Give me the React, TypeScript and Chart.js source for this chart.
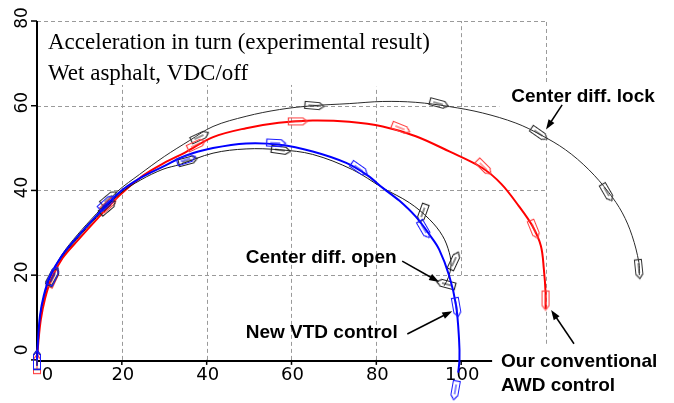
import React, { useEffect, useRef } from 'react';
import { Chart, registerables } from 'chart.js';
Chart.register(...registerables);

// ---- data (x = lateral position, y = longitudinal position, metres) ----
const lockX = [0, 0.3, 0.8, 1.8, 3.3, 6, 9.5, 14, 19, 24.2, 30, 36, 41.5, 49.3, 57.2, 65, 73.6, 81.5, 89.3, 97.2, 105, 112.9, 118.6, 124.6, 130.1, 134.8, 138, 140.3, 141.9, 142];
const lockY = [0, 4, 10, 15, 20, 25, 29.5, 34.5, 39.8, 43.8, 48, 51.8, 55.1, 57.5, 59.1, 60, 60.5, 61, 60.8, 59.8, 58.3, 55.9, 53.2, 49.6, 44.9, 39.5, 34.7, 29.3, 23, 20];

const convX = [0, 0.3, 0.9, 1.9, 3.4, 6, 9.6, 14.3, 19.6, 25, 30, 35, 41.5, 49.3, 57, 65, 73.6, 81.5, 89.3, 97.2, 105, 109.5, 113.6, 116.8, 118.8, 119.5, 119.9, 119.9];
const convY = [0, 4, 9.5, 14.5, 19.2, 24, 28.2, 33.4, 39, 43.5, 46.5, 49, 52.6, 54.7, 56, 56.5, 56.2, 55.1, 52.8, 49.2, 45.3, 41.5, 36.3, 31.6, 26.9, 21.4, 15.9, 12];

const openX = [0, 0.2, 0.7, 1.6, 3.1, 5.8, 9.3, 14, 19.5, 24.5, 29.7, 33.6, 41.5, 49.3, 57.2, 65, 74.4, 81.5, 87.8, 92.5, 95.6, 97.2, 97.6, 97, 96];
const openY = [0, 4, 10.3, 15, 19.6, 24.2, 28.4, 33.6, 39.2, 42.5, 45, 46.1, 48.8, 49.8, 49.6, 48.5, 44.9, 40.6, 37.1, 33.2, 29.3, 25.3, 22.2, 19.5, 17.5];

const vtdX = [0, 0.2, 0.7, 1.6, 3.1, 5.8, 9.3, 14, 19.5, 24.5, 29.7, 35, 41.5, 49.3, 57.2, 65, 72.9, 78, 81.5, 85.4, 89.3, 92.5, 94.8, 97.2, 98.8, 99.5, 99.6, 99.3];
const vtdY = [0, 4, 10.4, 15.2, 19.8, 24.5, 28.8, 34, 39.6, 43, 45.6, 48.2, 50, 51.1, 50.8, 49.2, 46.5, 43.5, 40.6, 37.6, 33.8, 29.6, 26.1, 19.8, 12.8, 4.9, 0, -3];

// vehicle positions (markers) and heading, degrees
const lockMarkX = [0, 3.8, 17, 38.4, 65.4, 94.8, 118.4, 134.4, 141.9];
const lockMarkY = [0, 20, 38.2, 52.7, 60, 60.5, 53.4, 39.5, 21.4];
const lockMarkH = [90, 62, 40, 25, -5, -15, -35, -60, -84];

const convMarkX = [0, 3.8, 17, 37.6, 61.5, 85.8, 105.4, 117.2, 119.9];
const convMarkY = [-1, 19.3, 36.8, 50.8, 56.3, 54.7, 45.5, 30.8, 14];
const convMarkH = [90, 65, 42, 25, 0, -22, -45, -68, -90];

const openMarkX = [0, 3.8, 16.7, 35.6, 57.5, 90.9, 98.4, 96.4];
const openMarkY = [0, 19.6, 36, 47, 49.5, 34.6, 23.4, 17.9];
const openMarkH = [90, 62, 40, 15, -8, -110, 65, 165];

const vtdMarkX = [0, 3.8, 16.4, 35.2, 56.4, 76, 91.3, 98.9, 98.6];
const vtdMarkY = [0, 19.8, 37.1, 47.3, 51.2, 45.1, 30.8, 12.4, -7.2];
const vtdMarkH = [90, 65, 42, 18, -3, -35, -60, -80, -100];

const xTicks = [0, 20, 40, 60, 80, 100];
const yTicks = [0, 20, 40, 60, 80];
const X_MIN = 0;
const X_MAX = 149;
const Y_MIN = -9;
const Y_MAX = 80;
const X_AXIS_END = 107.3;

const titleLines = ['Acceleration in turn (experimental result)', 'Wet asphalt, VDC/off'];

// annotation labels: text, anchor (data units), arrow start, arrow tip
const labels = [
  { lines: ['Center diff. lock'], x: 111.8, y: 60.9, from: [123.8, 60.2], to: [120, 54.4] },
  { lines: ['Center diff. open'], x: 49.2, y: 22.8, from: [86.1, 23.3], to: [94.8, 18.4] },
  { lines: ['New VTD control'], x: 49.2, y: 5.2, from: [87.3, 6.1], to: [97.9, 11.5] },
  { lines: ['Our conventional', 'AWD control'], x: 109.4, y: -1.6, from: [126.6, 3.8], to: [121.2, 11.8] },
];

// dashed grid segments (value, from, to)
const gridV = [
  [20, 0, 64.9], [40, 0, 64.9], [60, 0, 64.9], [80, 0, 64.5],
  [100, 20, 80], [120, 3.8, 52], [120, 65.6, 80],
];
const gridH = [
  [80, 0, 120], [60, 0, 109], [40, 0, 120], [20, 0, 120],
];

const pts = (xs: number[], ys: number[]) => xs.map((x, i) => ({ x, y: ys[i] }));

function makeCar(color: string): HTMLCanvasElement {
  const c = document.createElement('canvas');
  c.width = 22;
  c.height = 10;
  const g = c.getContext('2d')!;
  g.strokeStyle = color;
  g.lineWidth = 1.2;
  g.beginPath();
  g.moveTo(1.5, 1.5);
  g.lineTo(16, 1.5);
  g.lineTo(20.5, 5);
  g.lineTo(16, 8.5);
  g.lineTo(1.5, 8.5);
  g.closePath();
  g.stroke();
  g.lineWidth = 1;
  g.beginPath();
  g.moveTo(5, 5);
  g.lineTo(15, 5);
  g.stroke();
  return c;
}

const overlay = {
  id: 'overlay',
  beforeDatasetsDraw(chart: any) {
    const { ctx } = chart;
    const xs = chart.scales.x;
    const ys = chart.scales.y;
    const px = (v: number) => xs.getPixelForValue(v);
    const py = (v: number) => ys.getPixelForValue(v);
    ctx.save();
    // grid
    ctx.strokeStyle = '#9a9a9a';
    ctx.lineWidth = 1;
    ctx.setLineDash([4, 3]);
    gridV.forEach(([v, a, b]) => {
      const x = Math.round(px(v)) + 0.5;
      ctx.beginPath();
      ctx.moveTo(x, py(a));
      ctx.lineTo(x, py(b));
      ctx.stroke();
    });
    gridH.forEach(([v, a, b]) => {
      const y = Math.round(py(v)) + 0.5;
      ctx.beginPath();
      ctx.moveTo(px(a), y);
      ctx.lineTo(px(b), y);
      ctx.stroke();
    });
    ctx.setLineDash([]);
    // axes
    ctx.strokeStyle = '#000';
    ctx.lineWidth = 2;
    ctx.beginPath();
    ctx.moveTo(px(0), py(Y_MAX));
    ctx.lineTo(px(0), py(0) + 1);
    ctx.lineTo(px(X_AXIS_END), py(0) + 1);
    ctx.stroke();
    ctx.lineWidth = 1.5;
    yTicks.forEach((t) => {
      const y = py(t);
      ctx.beginPath();
      ctx.moveTo(px(0) - 6, y);
      ctx.lineTo(px(0), y);
      ctx.stroke();
    });
    xTicks.forEach((t) => {
      const x = px(t);
      ctx.beginPath();
      ctx.moveTo(x, py(0));
      ctx.lineTo(x, py(0) + 5);
      ctx.stroke();
    });
    // tick labels
    ctx.fillStyle = '#000';
    ctx.font = '18px "DejaVu Sans", sans-serif';
    ctx.textAlign = 'center';
    ctx.textBaseline = 'alphabetic';
    xTicks.forEach((t) => {
      const off = t === 0 ? 10.5 : 1;
      ctx.fillText(String(t), px(t) + off, py(0) + 20);
    });
    ctx.font = '17px "DejaVu Sans", sans-serif';
    yTicks.forEach((t) => {
      const off = t === 0 ? -10 : -3;
      ctx.save();
      ctx.translate(px(0) - 10, py(t) + off);
      ctx.rotate(-Math.PI / 2);
      ctx.fillText(String(t), 0, 0);
      ctx.restore();
    });
    ctx.restore();
  },
  afterDatasetsDraw(chart: any) {
    const { ctx } = chart;
    const xs = chart.scales.x;
    const ys = chart.scales.y;
    const px = (v: number) => xs.getPixelForValue(v);
    const py = (v: number) => ys.getPixelForValue(v);
    ctx.save();
    ctx.fillStyle = '#000';
    ctx.textAlign = 'left';
    ctx.textBaseline = 'alphabetic';
    ctx.font = '23px "Liberation Serif", "Times New Roman", serif';
    ctx.fillText(titleLines[0], px(0) + 11, 49);
    ctx.fillText(titleLines[1], px(0) + 11, 80);
    ctx.font = 'bold 19px "Liberation Sans", Arial, sans-serif';
    labels.forEach((l) => {
      l.lines.forEach((s, i) => ctx.fillText(s, px(l.x), py(l.y) + i * 24));
      const x1 = px(l.from[0]);
      const y1 = py(l.from[1]);
      const x2 = px(l.to[0]);
      const y2 = py(l.to[1]);
      const ang = Math.atan2(y2 - y1, x2 - x1);
      const hl = 10;
      const hw = 3.5;
      ctx.strokeStyle = '#000';
      ctx.lineWidth = 1.5;
      ctx.beginPath();
      ctx.moveTo(x1, y1);
      ctx.lineTo(x2 - Math.cos(ang) * hl * 0.8, y2 - Math.sin(ang) * hl * 0.8);
      ctx.stroke();
      ctx.beginPath();
      ctx.moveTo(x2, y2);
      ctx.lineTo(x2 - Math.cos(ang) * hl - Math.sin(ang) * hw, y2 - Math.sin(ang) * hl + Math.cos(ang) * hw);
      ctx.lineTo(x2 - Math.cos(ang) * hl + Math.sin(ang) * hw, y2 - Math.sin(ang) * hl - Math.cos(ang) * hw);
      ctx.closePath();
      ctx.fill();
    });
    ctx.restore();
  },
};

export default function App() {
  const ref = useRef<HTMLCanvasElement | null>(null);
  useEffect(() => {
    if (!ref.current) return;
    const carLock = makeCar('#333333');
    const carOpen = makeCar('#222222');
    const carConv = makeCar('#ff4040');
    const carVtd = makeCar('#1a1aff');
    const lineDs = (data: any, color: string, width: number, order: number) => ({
      data,
      showLine: true,
      borderColor: color,
      borderWidth: width,
      pointRadius: 0,
      tension: 0.35,
      clip: false,
      order,
    });
    const markDs = (data: any, img: HTMLCanvasElement, heads: number[], order: number) => ({
      data,
      showLine: false,
      pointStyle: img,
      pointRotation: heads.map((h) => -h),
      pointRadius: 3,
      clip: false,
      order,
    });
    const chart = new Chart(ref.current, {
      type: 'scatter',
      data: {
        datasets: [
          lineDs(pts(lockX, lockY), '#2b2b2b', 1, 8),
          markDs(pts(lockMarkX, lockMarkY), carLock, lockMarkH, 7),
          lineDs(pts(convX, convY), '#ff0000', 2, 6),
          markDs(pts(convMarkX, convMarkY), carConv, convMarkH, 5),
          lineDs(pts(openX, openY), '#1a1a1a', 1, 4),
          markDs(pts(openMarkX, openMarkY), carOpen, openMarkH, 3),
          lineDs(pts(vtdX, vtdY), '#0000ff', 2, 2),
          markDs(pts(vtdMarkX, vtdMarkY), carVtd, vtdMarkH, 1),
        ] as any,
      },
      options: {
        responsive: false,
        animation: false,
        devicePixelRatio: 1,
        layout: { padding: { left: 37, top: 21, right: 3.75, bottom: 3.75 } },
        scales: {
          x: { type: 'linear', min: X_MIN, max: X_MAX, display: false },
          y: { type: 'linear', min: Y_MIN, max: Y_MAX, display: false },
        },
        plugins: { legend: { display: false }, tooltip: { enabled: false } },
      } as any,
      plugins: [overlay],
    });
    return () => chart.destroy();
  }, []);
  return (
    <div style={{ position: 'absolute', left: 0, top: 0, width: 674, height: 403, background: '#fff' }}>
      <canvas ref={ref} width={674} height={403} />
    </div>
  );
}
